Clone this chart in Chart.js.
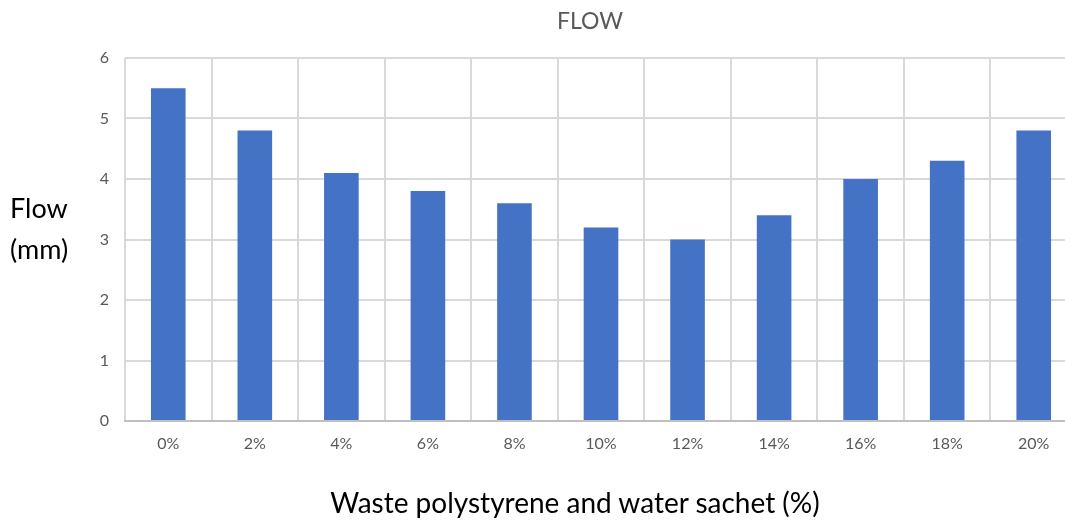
<!DOCTYPE html>
<html>
<head>
<meta charset="utf-8">
<script src="https://cdn.jsdelivr.net/npm/chart.js@4/dist/chart.umd.min.js"></script>
<style>
  html, body { margin: 0; padding: 0; background: #fff; overflow: hidden; }
  #wrap { position: relative; width: 1065px; height: 521px; overflow: hidden; font-family: Lato, "Open Sans", sans-serif; }
  #box { position: absolute; left: 0; top: 0; width: 1080px; height: 521px; }
  .lbl { position: absolute; white-space: nowrap; }
  #title {
    left: 590px; top: 20px; transform: translate(-50%, -50%);
    font-size: 23px; line-height: 28px; color: #595959;
  }
  #xlab {
    left: 575px; top: 502px; transform: translate(-50%, -50%);
    font-size: 28px; line-height: 34px; color: #000;
  }
  #ylab {
    left: 10px; top: 187px;
    font-size: 27px; line-height: 41px; color: #000;
  }
</style>
</head>
<body>
<div id="wrap">
  <div id="box"><canvas id="chart"></canvas></div>
  <div class="lbl" id="title">FLOW</div>
  <div class="lbl" id="xlab">Waste polystyrene and water sachet (%)</div>
  <div class="lbl" id="ylab">Flow<br>(mm)</div>
</div>
<script>
// Replacement level of waste polystyrene / water sachet and measured flow
const categories = ['0%', '2%', '4%', '6%', '8%', '10%', '12%', '14%', '16%', '18%', '20%'];
const flowValues = [5.5, 4.8, 4.1, 3.8, 3.6, 3.2, 3.0, 3.4, 4.0, 4.3, 4.8];
const yTicks = [0, 1, 2, 3, 4, 5, 6];

const FONT = 'Lato, "Open Sans", sans-serif';
const GRID = '#d9d9d9';

new Chart(document.getElementById('chart'), {
  type: 'bar',
  data: {
    labels: categories,
    datasets: [{
      label: 'Flow',
      data: flowValues,
      backgroundColor: '#4472c4',
      borderWidth: 0,
      categoryPercentage: 1.0,
      barPercentage: 0.4
    }]
  },
  options: {
    responsive: true,
    maintainAspectRatio: false,
    animation: false,
    layout: { padding: { left: 0, right: 3, top: 58, bottom: 0 } },
    plugins: {
      legend: { display: false },
      tooltip: { enabled: false },
      title: { display: false }
    },
    scales: {
      x: {
        grid: { color: GRID, lineWidth: 2, drawTicks: false, offset: true },
        border: { display: true, color: '#bfbfbf', width: 2 },
        ticks: {
          color: '#595959',
          font: { family: FONT, size: 16 },
          padding: 13,
          maxRotation: 0
        },
        afterFit(scale) { scale.height = 100; }
      },
      y: {
        min: 0,
        max: 6,
        afterBuildTicks(scale) { scale.ticks = yTicks.map(v => ({ value: v })); },
        grid: { color: GRID, lineWidth: 2, drawTicks: false },
        border: { display: false },
        ticks: {
          color: '#595959',
          font: { family: FONT, size: 16 },
          padding: 16
        },
        afterFit(scale) { scale.width = 125; }
      }
    }
  }
});
</script>
</body>
</html>
